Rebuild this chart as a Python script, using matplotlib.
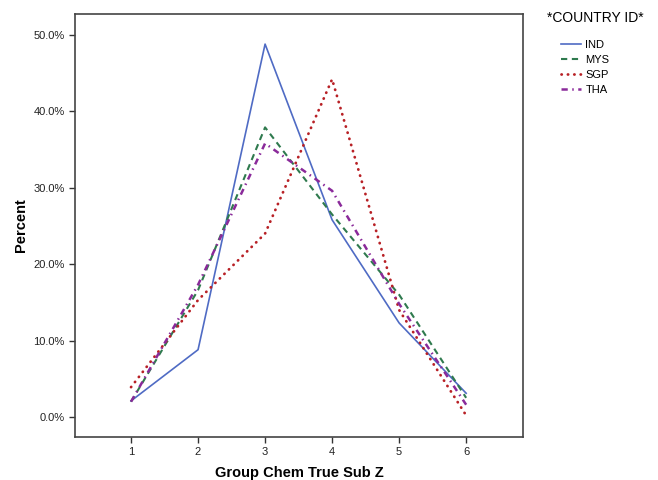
import matplotlib
matplotlib.use("Agg")
import matplotlib.pyplot as plt
from matplotlib.ticker import FuncFormatter

plt.rcParams['font.family'] = ['Liberation Sans', 'DejaVu Sans']

groups = [1, 2, 3, 4, 5, 6]
ind = [2.1, 8.8, 48.8, 25.8, 12.3, 3.1]
mys = [2.0, 16.6, 37.9, 26.5, 16.0, 2.5]
sgp = [3.9, 15.3, 24.0, 44.2, 14.0, 0.2]
tha = [2.0, 17.3, 35.8, 29.6, 14.8, 1.6]

fig = plt.figure(figsize=(6.58, 4.8), dpi=100)
ax = fig.add_axes([0.114, 0.09, 0.681, 0.881])

ax.plot(groups, ind, color='#4f6bc4', lw=1.2, ls='-', label='IND')
ax.plot(groups, mys, color='#2f7a4e', lw=1.5, ls=(0, (3, 2.2)), label='MYS')
ax.plot(groups, sgp, color='#b82025', lw=2.0, ls=(0, (0.1, 2.2)),
        dash_capstyle='round', label='SGP')
ax.plot(groups, tha, color='#8a2a9a', lw=1.8, ls=(0, (2.5, 1.8, 0.6, 1.8)), label='THA')

ax.set_xlim(0.164, 6.85)
ax.set_ylim(-2.6, 52.75)
ax.set_xticks(groups)
ax.set_yticks([0, 10, 20, 30, 40, 50])
ax.yaxis.set_major_formatter(FuncFormatter(lambda v, p: f"{v:.1f}%"))
ax.tick_params(labelsize=8, length=4, width=1, color='#333333', labelcolor='#222222')
for s in ax.spines.values():
    s.set_color('#444444')
    s.set_linewidth(1.2)

ax.set_xlabel('Group Chem True Sub Z', fontsize=10.5, fontweight='bold', labelpad=6)
ax.set_ylabel('Percent', fontsize=10.5, fontweight='bold', labelpad=4)

fig.text(595 / 658, 1 - 18 / 480, '*COUNTRY ID*', ha='center', va='center', fontsize=10)
leg = ax.legend(loc='upper left', bbox_to_anchor=(561 / 658, 1 - 40 / 480),
                bbox_transform=fig.transFigure, frameon=False, fontsize=8,
                handlelength=1.8, handletextpad=0.4, labelspacing=0.45,
                borderpad=0, borderaxespad=0)

fig.savefig('out.png', dpi=100)
